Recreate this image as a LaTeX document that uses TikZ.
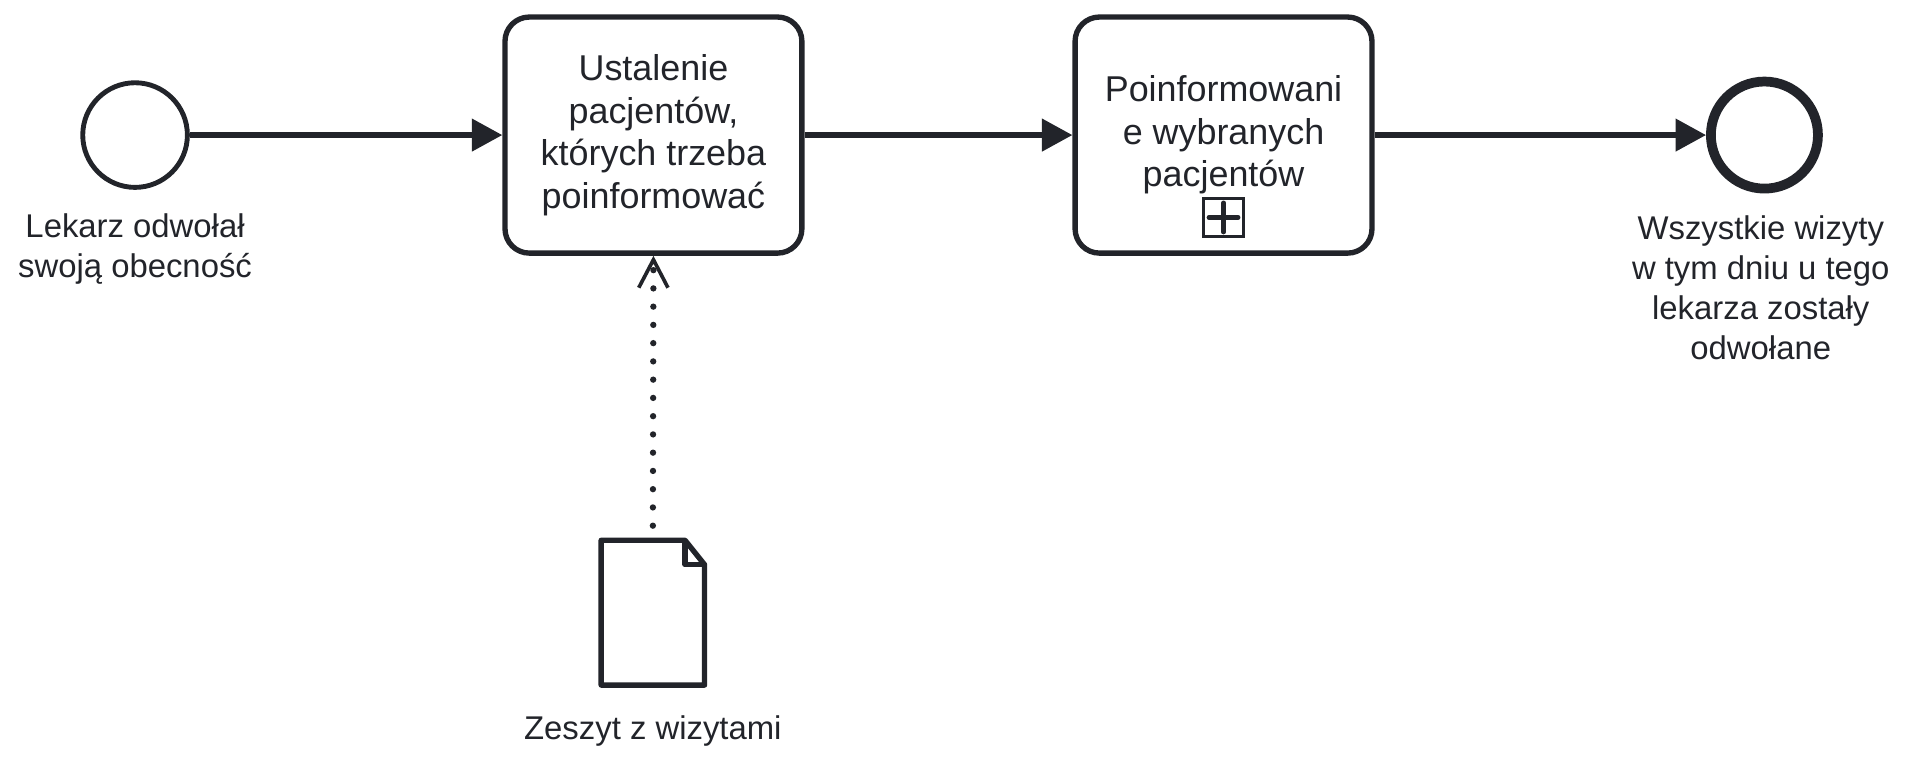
\documentclass[tikz,border=0pt]{standalone}
\usepackage{fontspec}
\setmainfont{Liberation Sans}
\usetikzlibrary{arrows.meta,positioning}
\definecolor{ink}{HTML}{22242A}
\begin{document}
\begin{tikzpicture}[x=0.5pt,y=-0.5pt,
	every node/.style={text=ink},
	task/.style={draw=ink,line width=2.2pt,rounded corners=10pt,minimum width=122pt,minimum height=97pt,
		align=center,inner sep=0pt,font=\fontsize{14.75}{17.5}\selectfont},
	startev/.style={circle,draw=ink,line width=2pt,minimum size=43pt,inner sep=0pt},
	endev/.style={circle,draw=ink,line width=4pt,minimum size=44pt,inner sep=0pt},
	evlabel/.style={align=center,inner sep=0pt,font=\fontsize{13.5}{16.35}\selectfont},
	flow/.style={draw=ink,line width=2.2pt,-{Triangle[length=12.5pt,width=13pt]}},
	assoc/.style={draw=ink,line width=2.6pt,line cap=round,dash pattern=on 0pt off 7.5pt,
		-{Straight Barb[length=11.5pt,width=12pt,line width=1.5pt]}},
	subproc/.style={draw=ink,line width=1pt,minimum width=16.5pt,minimum height=15.5pt,inner sep=0pt,
		path picture={\draw[ink,line width=1.9pt,line cap=round]
			([xshift=-6pt]path picture bounding box.center) -- ([xshift=6pt]path picture bounding box.center)
			([yshift=-6pt]path picture bounding box.center) -- ([yshift=6pt]path picture bounding box.center);}},
	docline/.style={draw=ink,line width=2.2pt,line join=round}]
	\useasboundingbox (0,0) rectangle (1568,631);

	% zdarzenia i zadania
	\node[startev] (start) at (111,111) {};
	\node[evlabel,below=9.5pt of start] (startlbl) {Lekarz odwołał\\swoją obecność};
	\node[task] (ustal) at (537,111) {Ustalenie\\pacjentów,\\których trzeba\\poinformować};
	\node[task] (info) at (1005.5,111) {Poinformowani\\e wybranych\\pacjentów};
	\node[subproc,above=7.5pt of info.south] (plus) {};
	\node[endev] (koniec) at (1450,111) {};
	\node[evlabel,below=9pt of koniec,xshift=-1.5pt] (koniecl) {Wszystkie wizyty\\w tym dniu u tego\\lekarza zostały\\odwołane};

	% dokument
	\node[minimum width=42.5pt,minimum height=59.5pt,inner sep=0pt,outer sep=0pt] (zeszyt) at (536.5,503.5) {};
	\draw[docline] (zeszyt.north west) -- ([xshift=-8pt]zeszyt.north east) -- ([yshift=-10pt]zeszyt.north east)
		-- (zeszyt.south east) -- (zeszyt.south west) -- cycle;
	\draw[docline] ([xshift=-8pt]zeszyt.north east) |- ([yshift=-10pt]zeszyt.north east);
	\node[evlabel,below=12.5pt of zeszyt] (zeszytl) {Zeszyt z wizytami};

	% przepływy
	\draw[flow] (start) -- (ustal);
	\draw[flow] (ustal) -- (info);
	\draw[flow] (info) -- (koniec);
	\draw[assoc,shorten <=6pt] (zeszyt.north) -- (ustal.south);
\end{tikzpicture}
\end{document}
